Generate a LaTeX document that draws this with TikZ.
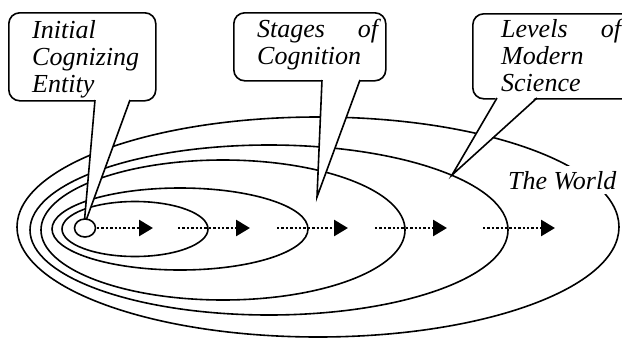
\documentclass[tikz,border=0pt]{standalone}
\usepackage{fontspec}
\setmainfont{Liberation Serif}
\usetikzlibrary{shapes.geometric,arrows.meta,calc}

% lines of a callout, stacked on a fixed baseline distance
\newcommand\calltext[1]{\vtop{\baselineskip=27pt\lineskiplimit=-\maxdimen #1}}

\tikzset{
  ring/.style={draw, ellipse, line width=1.6pt, inner sep=0pt, outer sep=0pt},
  callbox/.style={draw, fill=white, line width=1.6pt, rounded corners=11pt,
                  inner sep=0pt, anchor=north west},
  tailside/.style={line width=1.6pt, line join=miter},
  calllabel/.style={anchor=base west, inner sep=0pt,
                    font=\fontsize{26}{27}\selectfont\itshape},
  flow/.style={line width=2.6pt, dash pattern=on 2.4pt off 2pt,
               -{Triangle[length=14pt,width=16pt]}},
}

\begin{document}
\begin{tikzpicture}[x=1pt,y=-1pt]
  \useasboundingbox (0,0) rectangle (622,338);
  \clip (0,0) rectangle (622,338);

  % nested spheres of cognition
  \node[ring, minimum width=602pt, minimum height=220pt] (e5) at (318,227) {};
  \node[ring, minimum width=478pt, minimum height=170pt] (e4) at (269,230) {};
  \node[ring, minimum width=364pt, minimum height=140pt] (e3) at (223,230) {};
  \node[ring, minimum width=256pt, minimum height=82pt]  (e2) at (180,229) {};
  \node[ring, minimum width=146pt, minimum height=55pt]  (e1) at (135,229) {};

  % outward flow
  \coordinate (a1s) at (97,228);  \coordinate (a1e) at (153,228);
  \coordinate (a2s) at (178,228); \coordinate (a2e) at (250,228);
  \coordinate (a3s) at (277,228); \coordinate (a3e) at (348,228);
  \coordinate (a4s) at (375,228); \coordinate (a4e) at (447,228);
  \coordinate (a5s) at (483,228); \coordinate (a5e) at (555,228);
  \foreach \i in {1,...,5} \draw[flow] (a\i s) -- (a\i e);

  % callout: Initial Cognizing Entity
  \node[callbox, minimum width=147pt, minimum height=88pt] (c1) at (8,12) {};
  \coordinate (c1l) at (95,100);  \coordinate (c1r) at (130,100);
  \coordinate (p1) at (84,226);
  \fill[white] ($(c1l)+(0,-2)$) -- (p1) -- ($(c1r)+(0,-2)$) -- cycle;
  \draw[tailside] (c1l) -- (p1) -- (c1r);
  \node[calllabel] (t1) at (32,38)
    {\calltext{\hbox{Initial}\hbox{Cognizing}\hbox{Entity}}};

  % callout: Stages of Cognition
  \node[callbox, minimum width=152pt, minimum height=68pt] (c2) at (233,12) {};
  \coordinate (c2l) at (322,80);  \coordinate (c2r) at (360,80);
  \coordinate (p2) at (317,197);
  \fill[white] ($(c2l)+(0,-2)$) -- (p2) -- ($(c2r)+(0,-2)$) -- cycle;
  \draw[tailside] (c2l) -- (p2) -- (c2r);
  \node[calllabel] (t2) at (257,37)
    {\calltext{\hbox to 121pt{Stages\hfill of}\hbox{Cognition}}};

  % callout: Levels of Modern Science
  \node[callbox, minimum width=170pt, minimum height=85pt] (c3) at (472,13) {};
  \coordinate (c3l) at (497,98);  \coordinate (c3r) at (537,98);
  \coordinate (p3) at (452,175);
  \fill[white] ($(c3l)+(0,-2)$) -- (p3) -- ($(c3r)+(0,-2)$) -- cycle;
  \draw[tailside] (c3l) -- (p3) -- (c3r);
  \node[calllabel] (t3) at (501,37)
    {\calltext{\hbox to 120pt{Levels\hfill of}\hbox{Modern}\hbox{Science}}};

  % the cognizing entity itself
  \node[ring, fill=white, minimum width=21pt, minimum height=18pt] (c0) at (85,228) {};

  % label of the outermost sphere
  \node[calllabel, fill=white, inner sep=5pt] (world) at (503,189) {The World};
\end{tikzpicture}
\end{document}
